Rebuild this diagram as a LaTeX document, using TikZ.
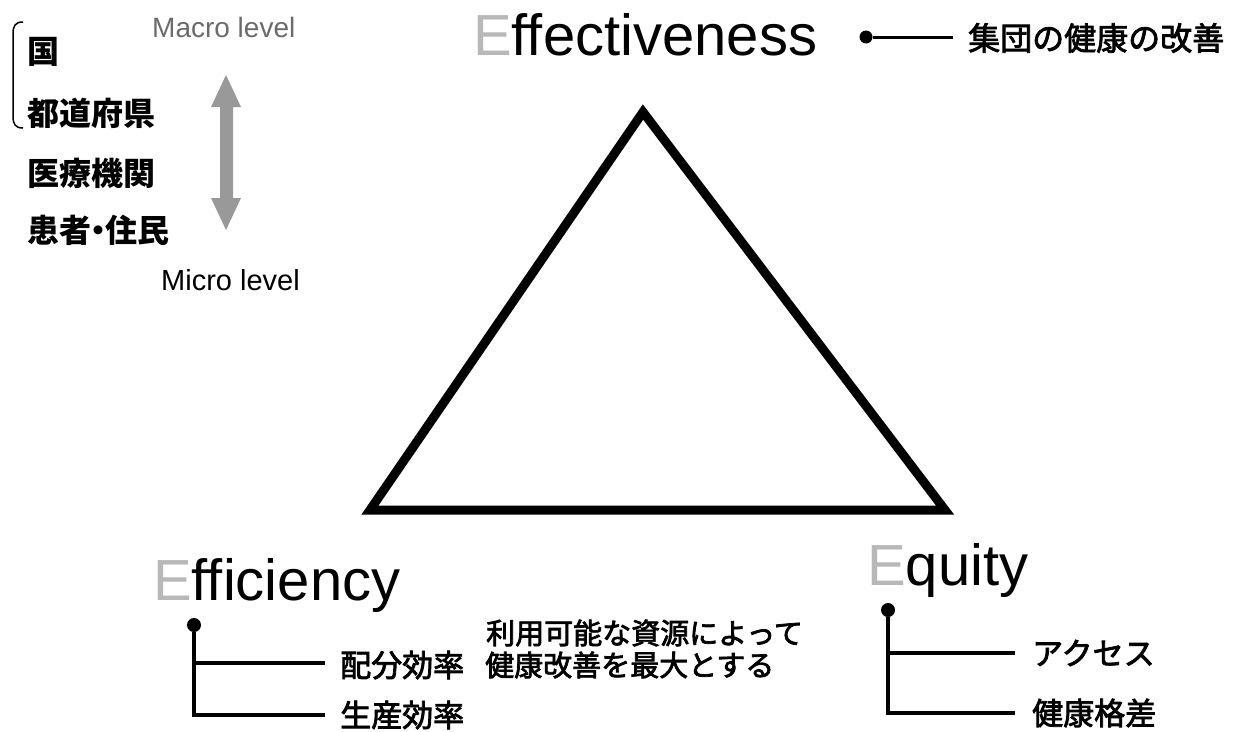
\documentclass[tikz,border=0pt]{standalone}
\usepackage{fontspec}
\setmainfont{Liberation Sans}
\newfontfamily\cjk[FakeBold=2.5]{Noto Sans CJK JP}
\newfontfamily\cjkb{Noto Sans CJK JP}
\definecolor{egray}{gray}{0.72}
\definecolor{arrowgray}{gray}{0.6}
\definecolor{macrogray}{gray}{0.42}
\begin{document}
\begin{tikzpicture}[x=1pt,y=-1pt,
  big/.style={font=\fontsize{58}{60}\selectfont, inner sep=0pt, anchor=base west},
  lvl/.style={font=\fontsize{28}{30}\selectfont, inner sep=0pt, anchor=base west},
  jpb/.style={font=\cjkb\bfseries\fontsize{32}{36}\selectfont, inner sep=0pt, anchor=west},
  jp/.style={font=\cjk\fontsize{31}{34}\selectfont, inner sep=0pt, anchor=west},
  jps/.style={font=\cjk\fontsize{29}{32}\selectfont, inner sep=0pt, anchor=west},
  dotnode/.style={circle, fill=black, inner sep=0pt, minimum size=14pt},
  tree/.style={line width=3.5pt},
]
\useasboundingbox (0,0) rectangle (1239,731);

% triangle
\coordinate (apex) at (643,112);
\coordinate (bl) at (370,510);
\coordinate (br) at (945,510);
\draw[line width=9pt, miter limit=10] (apex) -- (bl) -- (br) -- cycle;

% titles
\node[big] (eff) at (473,55) {{\color{egray}E}ffectiveness};
\node[big] (effi) at (153,600) {{\color{egray}E}fficiency};
\node[big] (equ) at (867,585) {{\color{egray}E}quity};

% effectiveness label
\node[dotnode, minimum size=13pt] (d1) at (866,37) {};
\coordinate (d1e) at (953,37);
\draw[line width=3pt] (d1) -- (d1e);
\node[jp, font=\cjk\fontsize{32}{36}\selectfont] (goal) at (968,38) {集団の健康の改善};

% left list
\node[lvl, text=macrogray] (macro) at (152,37) {Macro level};
\node[lvl, font=\fontsize{29}{31}\selectfont] (micro) at (161,290) {Micro level};
\node[jpb] (l1) at (27,52) {国};
\node[jpb] (l2) at (27,113) {都道府県};
\node[jpb] (l3) at (27,173) {医療機関};
\node[jpb] (l4) at (27,230) {患者\kern-0.28em・\kern-0.28em住民};
\draw[line width=1.5pt] (23,22) .. controls (15,22) and (13,26) .. (13,34) -- (13,116) .. controls (13,124) and (15,128) .. (23,128);
\fill[arrowgray] (226,75) -- (241,107) -- (233,107) -- (233,198) -- (241,198) -- (226,230) -- (211,198) -- (220,198) -- (220,107) -- (211,107) -- cycle;

% efficiency tree
\node[dotnode] (d2) at (194,625) {};
\coordinate (d2m) at (194,663);
\coordinate (d2b) at (194,715);
\coordinate (d2me) at (325,663);
\coordinate (d2be) at (325,715);
\draw[tree] (d2) -- (d2b) -- (d2be);
\draw[tree] (d2m) -- (d2me);
\node[jp] (alloc) at (340,665) {配分効率};
\node[jp] (prod) at (340,715) {生産効率};
\node[jps] (note1) at (486,633) {利用可能な資源によって};
\node[jps] (note2) at (485,665) {健康改善を最大とする};

% equity tree
\node[dotnode] (d3) at (888,610) {};
\coordinate (d3m) at (888,653);
\coordinate (d3b) at (888,713);
\coordinate (d3me) at (1015,653);
\coordinate (d3be) at (1015,713);
\draw[tree] (d3) -- (d3b) -- (d3be);
\draw[tree] (d3m) -- (d3me);
\node[jp] (access) at (1032,653) {アクセス};
\node[jp] (gap) at (1032,713) {健康格差};
\end{tikzpicture}
\end{document}
